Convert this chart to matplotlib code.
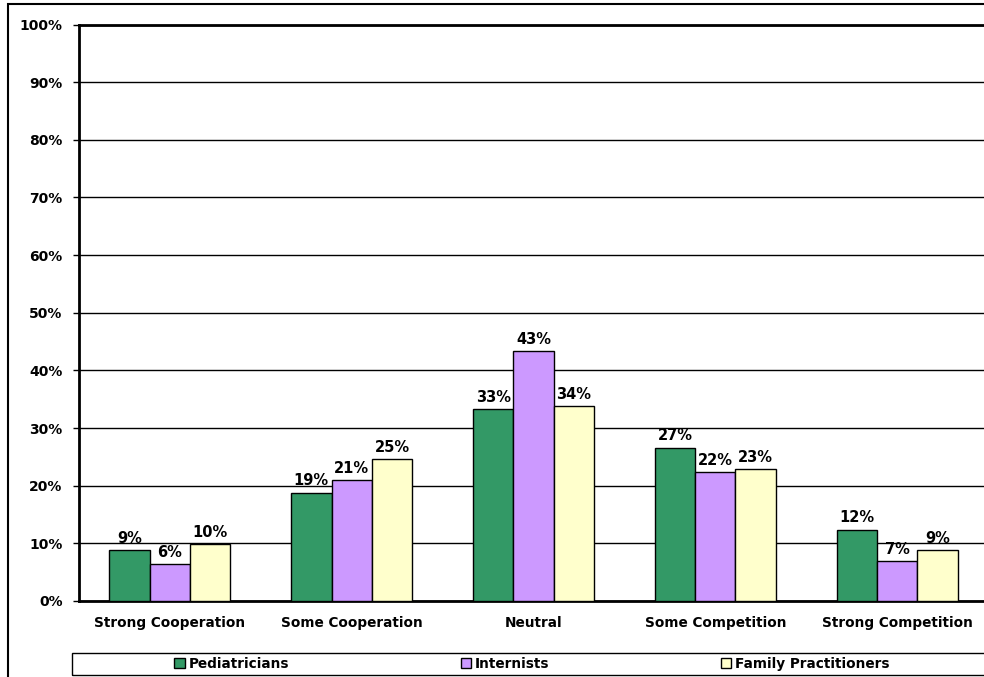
import matplotlib
matplotlib.use('Agg')
import matplotlib.pyplot as plt
import matplotlib.patches as mpatches
import numpy as np

categories = ['Strong Cooperation', 'Some Cooperation', 'Neutral',
              'Some Competition', 'Strong Competition']
series_names = ['Pediatricians', 'Internists', 'Family Practitioners']
pediatricians = [8.8, 18.8, 33.3, 26.6, 12.4]
internists = [6.4, 21.0, 43.3, 22.3, 6.9]
family = [9.9, 24.6, 33.8, 22.9, 8.8]
colors = ['#339966', '#CC99FF', '#FFFFCC']

fig = plt.figure(figsize=(9.84, 6.77), dpi=100)
ax = fig.add_axes([79 / 984, 76 / 677, 909 / 984, 576.5 / 677])

x = np.arange(len(categories))
w = 0.222
for i, (vals, name) in enumerate(zip([pediatricians, internists, family], series_names)):
    bars = ax.bar(x + (i - 1) * w, vals, w, color=colors[i], edgecolor='black',
                  linewidth=1, label=name, zorder=3)
    for b, v in zip(bars, vals):
        ax.annotate('%d%%' % round(v), (b.get_x() + b.get_width() / 2, v),
                    xytext=(0, 3), textcoords='offset points', ha='center',
                    va='bottom', fontsize=10.5, fontweight='bold')

ax.set_xlim(-0.5, 4.5)
ax.set_ylim(0, 100)
ax.set_yticks(np.arange(0, 101, 10))
ax.set_yticklabels(['%d%%' % t for t in range(0, 101, 10)], fontsize=10,
                   fontweight='bold')
ax.set_xticks(x)
ax.set_xticklabels(categories, fontsize=9.8, fontweight='bold')
ax.tick_params(axis='x', length=0, pad=11)
ax.tick_params(axis='y', length=4.3, width=1, pad=7.5)
ax.yaxis.grid(True, color='black', linewidth=1, zorder=0)
ax.set_axisbelow(True)
for s in ['left', 'bottom', 'top']:
    ax.spines[s].set_linewidth(2)
ax.spines['right'].set_visible(False)

# outer frame
fig.patches.append(mpatches.Rectangle((8 / 984, -0.1), 1.1, (673 + 68) / 677,
                                      transform=fig.transFigure, fill=False,
                                      edgecolor='black', linewidth=1.5))
# legend box
fig.patches.append(mpatches.Rectangle((72 / 984, 2 / 677), 1.1, 22 / 677,
                                      transform=fig.transFigure, fill=False,
                                      edgecolor='black', linewidth=1))

leg = fig.legend(loc='center', ncol=3, bbox_to_anchor=(532 / 984, 13 / 677),
                 prop={'size': 9.8, 'weight': 'bold'}, frameon=False,
                 handlelength=0.75, handleheight=0.75, handletextpad=0.3,
                 columnspacing=12.6, borderpad=0, borderaxespad=0)

fig.savefig('out.png', dpi=100)
